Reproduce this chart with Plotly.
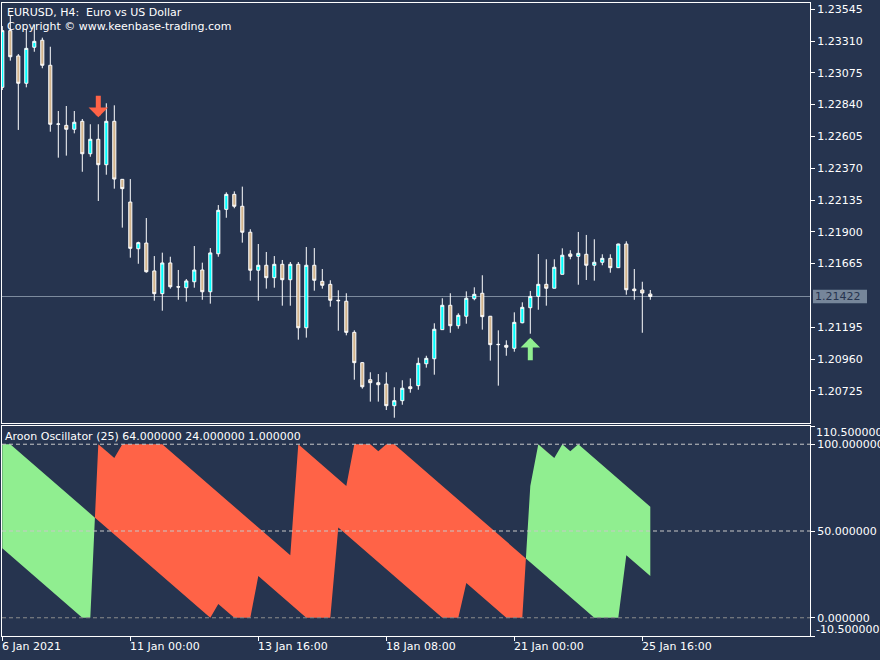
import plotly.graph_objects as go

# ---------------- data ----------------
bars = list(range(82))

open_ = [1.22968, 1.23387, 1.23200, 1.22998, 1.23264, 1.23316, 1.23131, 1.22695, 1.22687, 1.22658,
         1.22717, 1.22477, 1.22584, 1.22396, 1.22717, 1.22288, 1.22120, 1.21775, 1.21817, 1.21611,
         1.21443, 1.21670, 1.21494, 1.21487, 1.21531, 1.21618, 1.21457, 1.21738, 1.22066, 1.22177,
         1.22089, 1.21897, 1.21616, 1.21653, 1.21561, 1.21660, 1.21546, 1.21660, 1.21191, 1.21653,
         1.21534, 1.21512, 1.21394, 1.21387, 1.21157, 1.20933, 1.20807, 1.20785, 1.20775, 1.20615,
         1.20652, 1.20755, 1.20763, 1.20925, 1.20962, 1.21177, 1.21357, 1.21206, 1.21276, 1.21406,
         1.21446, 1.21276, 1.21066, 1.21061, 1.21039, 1.21228, 1.21339, 1.21423, 1.21512, 1.21483,
         1.21586, 1.21736, 1.21719, 1.21734, 1.21653, 1.21675, 1.21704, 1.21635, 1.21810, 1.21477,
         1.21470, 1.21440]

high = [1.23421, 1.23503, 1.23214, 1.23397, 1.23429, 1.23335, 1.23268, 1.22793, 1.22830, 1.22793,
        1.22734, 1.22695, 1.22695, 1.22850, 1.22835, 1.22290, 1.22290, 1.21827, 1.22002, 1.21721,
        1.21746, 1.21716, 1.21618, 1.21551, 1.21795, 1.21672, 1.21780, 1.22098, 1.22192, 1.22199,
        1.22234, 1.21919, 1.21810, 1.21751, 1.21721, 1.21692, 1.21677, 1.21677, 1.21788, 1.21780,
        1.21625, 1.21542, 1.21468, 1.21446, 1.21172, 1.20938, 1.20862, 1.20849, 1.20862, 1.20751,
        1.20803, 1.20817, 1.20970, 1.20984, 1.21224, 1.21409, 1.21446, 1.21298, 1.21460, 1.21490,
        1.21579, 1.21278, 1.21172, 1.21098, 1.21305, 1.21379, 1.21463, 1.21736, 1.21697, 1.21697,
        1.21778, 1.21764, 1.21899, 1.21877, 1.21845, 1.21734, 1.21734, 1.21812, 1.21830, 1.21625,
        1.21531, 1.21470]

low = [1.22948, 1.23165, 1.22653, 1.22968, 1.23231, 1.23109, 1.22640, 1.22448, 1.22463, 1.22628,
       1.22344, 1.22455, 1.22128, 1.22322, 1.22219, 1.21931, 1.21709, 1.21664, 1.21598, 1.21391,
       1.21317, 1.21480, 1.21398, 1.21384, 1.21487, 1.21398, 1.21369, 1.21716, 1.22004, 1.22074,
       1.21820, 1.21539, 1.21391, 1.21480, 1.21487, 1.21354, 1.21354, 1.21103, 1.21118, 1.21465,
       1.21480, 1.21347, 1.21169, 1.21135, 1.20807, 1.20741, 1.20645, 1.20645, 1.20583, 1.20526,
       1.20622, 1.20711, 1.20733, 1.20896, 1.20844, 1.21177, 1.21154, 1.21184, 1.21221, 1.21394,
       1.21177, 1.20948, 1.20763, 1.20984, 1.21014, 1.21224, 1.21147, 1.21324, 1.21354, 1.21483,
       1.21586, 1.21697, 1.21509, 1.21544, 1.21539, 1.21653, 1.21598, 1.21635, 1.21435, 1.21398,
       1.21154, 1.21398]

close = [1.23387, 1.23194, 1.22998, 1.23256, 1.23308, 1.23131, 1.22695, 1.22697, 1.22658, 1.22710,
         1.22477, 1.22584, 1.22396, 1.22717, 1.22290, 1.22219, 1.21778, 1.21820, 1.21605, 1.21443,
         1.21670, 1.21494, 1.21492, 1.21537, 1.21618, 1.21457, 1.21744, 1.22059, 1.22177, 1.22089,
         1.21897, 1.21616, 1.21653, 1.21561, 1.21660, 1.21546, 1.21660, 1.21191, 1.21653, 1.21542,
         1.21505, 1.21394, 1.21391, 1.21157, 1.20933, 1.20755, 1.20785, 1.20770, 1.20615, 1.20652,
         1.20744, 1.20741, 1.20928, 1.20965, 1.21180, 1.21357, 1.21206, 1.21283, 1.21409, 1.21438,
         1.21273, 1.21066, 1.21068, 1.21047, 1.21231, 1.21342, 1.21423, 1.21512, 1.21483, 1.21638,
         1.21727, 1.21719, 1.21741, 1.21653, 1.21675, 1.21704, 1.21635, 1.21810, 1.21472, 1.21465,
         1.21448, 1.21422]

aroon_up = [100, 100, 96, 92, 88, 84, 80, 76, 72, 68,
            64, 60, 56, 52, 48, 44, 40, 36, 32, 28,
            24, 20, 16, 12, 8, 4, 0, 8, 4, 0,
            0, 0, 24, 20, 16, 12, 8, 4, 0, 0,
            0, 0, 52, 48, 44, 40, 36, 32, 28, 24,
            20, 16, 12, 8, 4, 0, 0, 0, 20, 16,
            12, 8, 4, 0, 0, 0, 76, 100, 96, 92,
            100, 96, 100, 96, 92, 88, 84, 80, 76, 72,
            68, 64]

aroon_down = [40, 36, 32, 28, 24, 20, 16, 12, 8, 4,
              0, 0, 100, 96, 92, 100, 100, 100, 100, 100,
              100, 96, 92, 88, 84, 80, 76, 72, 68, 64,
              60, 56, 52, 48, 44, 40, 36, 100, 96, 92,
              88, 84, 80, 76, 100, 100, 100, 96, 100, 100,
              96, 92, 88, 84, 80, 76, 72, 68, 64, 60,
              56, 52, 48, 44, 40, 36, 32, 28, 24, 20,
              16, 12, 8, 4, 0, 0, 0, 0, 36, 32,
              28, 24]

x_tick_bars = [0, 16, 32, 48, 64, 80]
x_tick_labels = ["6 Jan 2021", "11 Jan 00:00", "13 Jan 16:00", "18 Jan 08:00",
                 "21 Jan 00:00", "25 Jan 16:00"]
price_tick_labels = ["1.20725", "1.20960", "1.21195", "1.21665", "1.21900", "1.22135",
                     "1.22370", "1.22605", "1.22840", "1.23075", "1.23310", "1.23545"]
osc_tick_vals = [110.5, 100, 50, 0, -10.5]
osc_tick_labels = ["110.500000", "100.000000", "50.000000", "0.000000", "-10.500000"]
sell_signal_bars = [12]
buy_signal_bars = [66]

title_text = "EURUSD, H4:\u00a0 Euro vs US Dollar<br>Copyright © www.keenbase-trading.com"
osc_text = "Aroon Oscillator (25) 64.000000 24.000000 1.000000"

# ---------------- style ----------------
BG = "#26344F"
BULL = "#00FFFF"
BEAR = "#D2B48C"
RED = "#FF6347"
GREEN = "#90EE90"
FONT = "DejaVu Sans"

# ---------------- aroon fill geometry (insert crossing points) ----------------
xs, ups, dns = [], [], []
for i in range(len(bars)):
    xs.append(bars[i]); ups.append(aroon_up[i]); dns.append(aroon_down[i])
    if i < len(bars) - 1:
        d0 = aroon_up[i] - aroon_down[i]
        d1 = aroon_up[i + 1] - aroon_down[i + 1]
        if d0 * d1 < 0:
            t = d0 / (d0 - d1)
            v = aroon_up[i] + t * (aroon_up[i + 1] - aroon_up[i])
            xs.append(bars[i] + t); ups.append(v); dns.append(v)
green_top = [u if u >= d else d for u, d in zip(ups, dns)]
red_top = [d if d >= u else u for u, d in zip(ups, dns)]

fig = go.Figure()
fig.add_trace(go.Candlestick(
    x=bars, open=open_, high=high, low=low, close=close,
    increasing=dict(fillcolor=BULL, line=dict(color="white", width=1)),
    decreasing=dict(fillcolor=BEAR, line=dict(color="white", width=1)),
    xaxis="x", yaxis="y", showlegend=False))

fig.add_trace(go.Scatter(x=xs, y=dns, mode="lines", line=dict(width=0, color=GREEN),
                         xaxis="x2", yaxis="y2", showlegend=False, hoverinfo="skip"))
fig.add_trace(go.Scatter(x=xs, y=green_top, mode="lines", line=dict(width=0, color=GREEN),
                         fill="tonexty", fillcolor=GREEN,
                         xaxis="x2", yaxis="y2", showlegend=False, hoverinfo="skip"))
fig.add_trace(go.Scatter(x=xs, y=ups, mode="lines", line=dict(width=0, color=RED),
                         xaxis="x2", yaxis="y2", showlegend=False, hoverinfo="skip"))
fig.add_trace(go.Scatter(x=xs, y=red_top, mode="lines", line=dict(width=0, color=RED),
                         fill="tonexty", fillcolor=RED,
                         xaxis="x2", yaxis="y2", showlegend=False, hoverinfo="skip"))

# ---------------- layout ----------------
W, H = 880, 660
ML, MR, MT, MB = 2, 70, 3, 24
PW, PH = W - ML - MR, H - MT - MB
px_per_bar = 8.0
x0_bar = -(0.3 / px_per_bar)
xrange_ = [x0_bar, x0_bar + PW / px_per_bar]


def py(ypx):  # pixel y (from top) -> paper fraction
    return (H - MB - ypx) / PH


def pxp(xpx):
    return (xpx - ML) / PW


axis_common = dict(showline=True, mirror=True, linecolor="white", linewidth=1,
                   showgrid=False, zeroline=False, fixedrange=True)

fig.update_layout(
    width=W, height=H, paper_bgcolor=BG, plot_bgcolor=BG,
    margin=dict(l=ML, r=MR, t=MT, b=MB, autoexpand=False), showlegend=False, boxgap=0.45,
    font=dict(family=FONT, size=11, color="white"),
    xaxis=dict(domain=[0, 1], anchor="y", range=xrange_, showticklabels=False, ticks="",
               rangeslider=dict(visible=False), **axis_common),
    yaxis=dict(domain=[py(423), 1], anchor="x", side="right",
               range=[1.21422 - 126.5 / 13530, 1.21422 + 293.5 / 13530],
               tickvals=[float(v) for v in price_tick_labels], ticktext=price_tick_labels,
               ticks="outside", ticklen=4, tickcolor="white", **axis_common),
    xaxis2=dict(domain=[0, 1], anchor="y2", matches="x", range=xrange_,
                tickvals=x_tick_bars, showticklabels=False, ticks="outside", ticklen=4,
                tickcolor="white", **axis_common),
    yaxis2=dict(domain=[0, py(426)], anchor="x2", side="right", range=[-10.5, 110.5],
                tickvals=osc_tick_vals,
                ticktext=[""] + osc_tick_labels[1:4] + [""],
                ticks="outside", ticklen=4, tickcolor="white", **axis_common),
)

# last price line and label box
last = close[-1]
fig.add_shape(type="line", xref="x domain", x0=0, x1=1, yref="y", y0=last, y1=last,
              line=dict(color="#7D8B9E", width=1), layer="below")
fig.add_shape(type="rect", xref="paper", x0=pxp(813), x1=pxp(867), yref="y",
              ysizemode="pixel", yanchor=last, y0=-6.7, y1=6.7,
              fillcolor="#76869A", line=dict(width=0), layer="above")
fig.add_annotation(xref="paper", x=pxp(814), yref="y", y=last, xanchor="left",
                   yanchor="middle", text=f"{last:.5f}", showarrow=False,
                   font=dict(color=BG, size=11, family=FONT), borderpad=0)

# oscillator levels (dashed)
for lvl, col in [(100, "#C8C8C8"), (50, "#C8C8C8"), (0, "#8C8C8C")]:
    fig.add_shape(type="line", xref="x2 domain", x0=0, x1=1, yref="y2", y0=lvl, y1=lvl,
                  line=dict(color=col, width=1, dash="4px,3px"), layer="above")

# texts
fig.add_annotation(xref="paper", yref="paper", x=pxp(5), y=py(4), xanchor="left",
                   yanchor="top", align="left", text=title_text, showarrow=False,
                   font=dict(size=11, color="white", family=FONT))
fig.add_annotation(xref="paper", yref="paper", x=pxp(3), y=py(428), xanchor="left",
                   yanchor="top", align="left", text=osc_text, showarrow=False,
                   font=dict(size=11, color="white", family=FONT))
for b, lab in zip(x_tick_bars, x_tick_labels):
    fig.add_annotation(xref="x2", yref="paper", x=b, y=py(638), xanchor="left",
                       yanchor="top", text=lab, showarrow=False, xshift=-2,
                       font=dict(size=11, color="white", family=FONT))
for val, lab, ypix in [(osc_tick_vals[0], osc_tick_labels[0], 432.5),
                       (osc_tick_vals[-1], osc_tick_labels[-1], 629)]:
    fig.add_annotation(xref="paper", yref="paper", x=pxp(814), y=py(ypix), xanchor="left",
                       yanchor="middle", text=lab, showarrow=False,
                       font=dict(size=11, color="white", family=FONT))

# signal arrows
for b in sell_signal_bars:
    fig.add_annotation(x=b, y=high[b], xref="x", yref="y", ax=0, ay=-30, text="",
                       showarrow=True, arrowhead=1, arrowsize=0.65, arrowwidth=5,
                       arrowcolor=RED, standoff=7)
for b in buy_signal_bars:
    fig.add_annotation(x=b, y=low[b], xref="x", yref="y", ax=0, ay=28, text="",
                       showarrow=True, arrowhead=1, arrowsize=0.65, arrowwidth=5,
                       arrowcolor=GREEN, standoff=4)

fig.write_html("out.html",
               config={"displayModeBar": False},
               post_script="document.body.style.margin='0';"
                           "document.body.style.overflow='hidden';"
                           f"document.body.style.background='{BG}';")
